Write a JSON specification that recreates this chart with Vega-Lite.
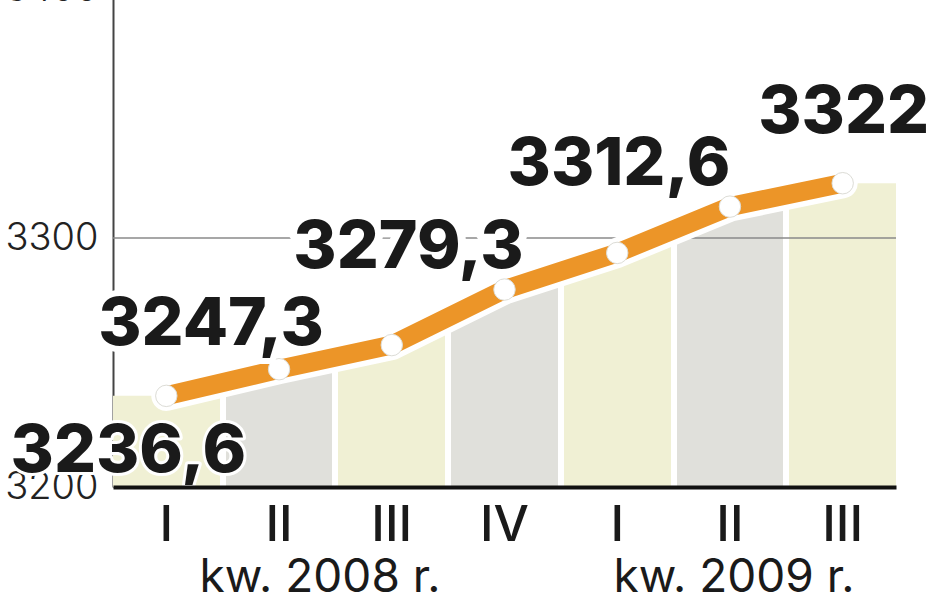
{
  "$schema": "https://vega.github.io/schema/vega-lite/v6.json",
  "width": 783,
  "height": 498,
  "autosize": {"type": "none"},
  "padding": {"left": 113, "top": -11, "right": 52, "bottom": 106},
  "background": "white",
  "config": {
    "view": {"stroke": null},
    "locale": {"number": {"decimal": ",", "thousands": "", "grouping": [3], "currency": ["", " zł"]}},
    "font": "Inter"
  },
  "data": {"values": [
    {"period": "I 2008", "quarter": "I", "value": 3236.6},
    {"period": "II 2008", "quarter": "II", "value": 3247.3},
    {"period": "III 2008", "quarter": "III", "value": 3257},
    {"period": "IV 2008", "quarter": "IV", "value": 3279.3},
    {"period": "I 2009", "quarter": "I", "value": 3294},
    {"period": "II 2009", "quarter": "II", "value": 3312.6},
    {"period": "III 2009", "quarter": "III", "value": 3322}
  ]},
  "layer": [
    {
      "mark": {"type": "bar"},
      "encoding": {
        "x": {"field": "period", "type": "nominal", "sort": null,
          "scale": {"domain": ["I 2008", "II 2008", "III 2008", "IV 2008", "I 2009", "II 2009", "III 2009"], "paddingInner": 0.054, "paddingOuter": 0},
          "axis": {"title": null, "labelExpr": "split(datum.label, ' ')[0]", "labelAngle": 0, "labelFont": "Inter", "labelFontSize": 50, "labelFontWeight": 500, "labelColor": "#1a1a1a", "labelPadding": 13, "ticks": false, "domainColor": "#111111", "domainWidth": 4, "zindex": 1}},
        "y": {"field": "value", "type": "quantitative",
          "scale": {"domain": [3200, 3400], "zero": false, "nice": false},
          "axis": {"title": null, "values": [3200, 3300, 3400], "format": "d", "grid": false, "ticks": false, "labelFont": "Inter", "labelFontSize": 38, "labelFontWeight": 300, "labelColor": "#222222", "labelPadding": 15, "domainColor": "#444444", "domainWidth": 2}},
        "y2": {"datum": 3200},
        "color": {"field": "quarter", "type": "nominal", "legend": null,
          "scale": {"domain": ["I", "II", "III", "IV"], "range": ["#F0F0D4", "#E0E0DB", "#F0F0D4", "#E0E0DB"]}}
      }
    },
    {
      "mark": {"type": "area", "interpolate": "linear",
        "fill": {"gradient": "linear", "x1": 0, "y1": 0, "x2": 1, "y2": 0, "stops": [
          {"offset": 0, "color": "#F0F0D4"}, {"offset": 0.0789, "color": "#F0F0D4"},
          {"offset": 0.0789, "color": "#FFFFFF"}, {"offset": 0.0879, "color": "#FFFFFF"},
          {"offset": 0.0879, "color": "#E0E0DB"}, {"offset": 0.2455, "color": "#E0E0DB"},
          {"offset": 0.2455, "color": "#FFFFFF"}, {"offset": 0.2545, "color": "#FFFFFF"},
          {"offset": 0.2545, "color": "#F0F0D4"}, {"offset": 0.4122, "color": "#F0F0D4"},
          {"offset": 0.4122, "color": "#FFFFFF"}, {"offset": 0.4212, "color": "#FFFFFF"},
          {"offset": 0.4212, "color": "#E0E0DB"}, {"offset": 0.5788, "color": "#E0E0DB"},
          {"offset": 0.5788, "color": "#FFFFFF"}, {"offset": 0.5878, "color": "#FFFFFF"},
          {"offset": 0.5878, "color": "#F0F0D4"}, {"offset": 0.7455, "color": "#F0F0D4"},
          {"offset": 0.7455, "color": "#FFFFFF"}, {"offset": 0.7545, "color": "#FFFFFF"},
          {"offset": 0.7545, "color": "#E0E0DB"}, {"offset": 0.9122, "color": "#E0E0DB"},
          {"offset": 0.9122, "color": "#FFFFFF"}, {"offset": 0.9212, "color": "#FFFFFF"},
          {"offset": 0.9212, "color": "#F0F0D4"}, {"offset": 1, "color": "#F0F0D4"}
        ]}},
      "encoding": {
        "x": {"field": "period", "type": "nominal", "sort": null},
        "y": {"field": "value", "type": "quantitative"},
        "y2": {"datum": 3200}
      }
    },
    {
      "mark": {"type": "area", "interpolate": "linear", "fill": "white"},
      "encoding": {
        "x": {"field": "period", "type": "nominal", "sort": null},
        "y": {"field": "value", "type": "quantitative"},
        "y2": {"datum": 3400}
      }
    },
    {
      "data": {"values": [{}]},
      "mark": {"type": "rule", "color": "#8a8a8a", "strokeWidth": 1.5},
      "encoding": {"y": {"datum": 3300}}
    },
    {
      "mark": {"type": "line", "stroke": "white", "strokeWidth": 30, "strokeCap": "round", "strokeJoin": "round"},
      "encoding": {
        "x": {"field": "period", "type": "nominal", "sort": null},
        "y": {"field": "value", "type": "quantitative"}
      }
    },
    {
      "mark": {"type": "line", "stroke": "#EC9528", "strokeWidth": 19, "strokeCap": "round", "strokeJoin": "round"},
      "encoding": {
        "x": {"field": "period", "type": "nominal", "sort": null},
        "y": {"field": "value", "type": "quantitative"}
      }
    },
    {
      "mark": {"type": "circle", "fill": "white", "opacity": 1, "size": 460, "stroke": "#dcdcd6", "strokeWidth": 1},
      "encoding": {
        "x": {"field": "period", "type": "nominal", "sort": null},
        "y": {"field": "value", "type": "quantitative"}
      }
    },
    {
      "transform": [{"filter": "datum.period == 'I 2008'"}],
      "mark": {"type": "text", "font": "Inter", "fontSize": 66, "fontWeight": 800, "align": "center", "baseline": "alphabetic", "dx": -38, "dy": 76, "fill": "white", "stroke": "white", "strokeWidth": 6, "strokeJoin": "round"},
      "encoding": {"x": {"field": "period", "type": "nominal", "sort": null}, "y": {"field": "value", "type": "quantitative"}, "text": {"field": "value", "type": "quantitative", "format": ".1~f"}}
    },
    {
      "transform": [{"filter": "datum.period == 'I 2008'"}],
      "mark": {"type": "text", "font": "Inter", "fontSize": 66, "fontWeight": 800, "align": "center", "baseline": "alphabetic", "dx": -38, "dy": 76, "fill": "#1a1a1a"},
      "encoding": {"x": {"field": "period", "type": "nominal", "sort": null}, "y": {"field": "value", "type": "quantitative"}, "text": {"field": "value", "type": "quantitative", "format": ".1~f"}}
    },
    {
      "transform": [{"filter": "datum.period == 'II 2008'"}],
      "mark": {"type": "text", "font": "Inter", "fontSize": 66, "fontWeight": 800, "align": "center", "baseline": "alphabetic", "dx": -68, "dy": -24, "fill": "white", "stroke": "white", "strokeWidth": 12, "strokeJoin": "round"},
      "encoding": {"x": {"field": "period", "type": "nominal", "sort": null}, "y": {"field": "value", "type": "quantitative"}, "text": {"field": "value", "type": "quantitative", "format": ".1~f"}}
    },
    {
      "transform": [{"filter": "datum.period == 'II 2008'"}],
      "mark": {"type": "text", "font": "Inter", "fontSize": 66, "fontWeight": 800, "align": "center", "baseline": "alphabetic", "dx": -68, "dy": -24, "fill": "#1a1a1a"},
      "encoding": {"x": {"field": "period", "type": "nominal", "sort": null}, "y": {"field": "value", "type": "quantitative"}, "text": {"field": "value", "type": "quantitative", "format": ".1~f"}}
    },
    {
      "transform": [{"filter": "datum.period == 'IV 2008'"}],
      "mark": {"type": "text", "font": "Inter", "fontSize": 66, "fontWeight": 800, "align": "center", "baseline": "alphabetic", "dx": -96, "dy": -22, "fill": "white", "stroke": "white", "strokeWidth": 16, "strokeJoin": "round"},
      "encoding": {"x": {"field": "period", "type": "nominal", "sort": null}, "y": {"field": "value", "type": "quantitative"}, "text": {"field": "value", "type": "quantitative", "format": ".1~f"}}
    },
    {
      "transform": [{"filter": "datum.period == 'IV 2008'"}],
      "mark": {"type": "text", "font": "Inter", "fontSize": 66, "fontWeight": 800, "align": "center", "baseline": "alphabetic", "dx": -96, "dy": -22, "fill": "#1a1a1a"},
      "encoding": {"x": {"field": "period", "type": "nominal", "sort": null}, "y": {"field": "value", "type": "quantitative"}, "text": {"field": "value", "type": "quantitative", "format": ".1~f"}}
    },
    {
      "transform": [{"filter": "datum.period == 'II 2009'"}],
      "mark": {"type": "text", "font": "Inter", "fontSize": 66, "fontWeight": 800, "align": "center", "baseline": "alphabetic", "dx": -111, "dy": -22, "fill": "#1a1a1a"},
      "encoding": {"x": {"field": "period", "type": "nominal", "sort": null}, "y": {"field": "value", "type": "quantitative"}, "text": {"field": "value", "type": "quantitative", "format": ".1~f"}}
    },
    {
      "transform": [{"filter": "datum.period == 'III 2009'"}],
      "mark": {"type": "text", "font": "Inter", "fontSize": 66, "fontWeight": 800, "align": "center", "baseline": "alphabetic", "dx": 1, "dy": -50, "fill": "#1a1a1a"},
      "encoding": {"x": {"field": "period", "type": "nominal", "sort": null}, "y": {"field": "value", "type": "quantitative"}, "text": {"field": "value", "type": "quantitative", "format": ".1~f"}}
    },
    {
      "data": {"values": [{"period": "II 2008", "caption": "kw. 2008 r."}]},
      "mark": {"type": "text", "font": "Inter", "fontSize": 46, "fontWeight": 400, "align": "center", "baseline": "alphabetic", "dx": 41, "dy": 105, "fill": "#1a1a1a"},
      "encoding": {"x": {"field": "period", "type": "nominal", "sort": null}, "y": {"datum": 3200}, "text": {"field": "caption", "type": "nominal"}}
    },
    {
      "data": {"values": [{"period": "II 2009", "caption": "kw. 2009 r."}]},
      "mark": {"type": "text", "font": "Inter", "fontSize": 46, "fontWeight": 400, "align": "center", "baseline": "alphabetic", "dx": 4, "dy": 105, "fill": "#1a1a1a"},
      "encoding": {"x": {"field": "period", "type": "nominal", "sort": null}, "y": {"datum": 3200}, "text": {"field": "caption", "type": "nominal"}}
    }
  ]
}
